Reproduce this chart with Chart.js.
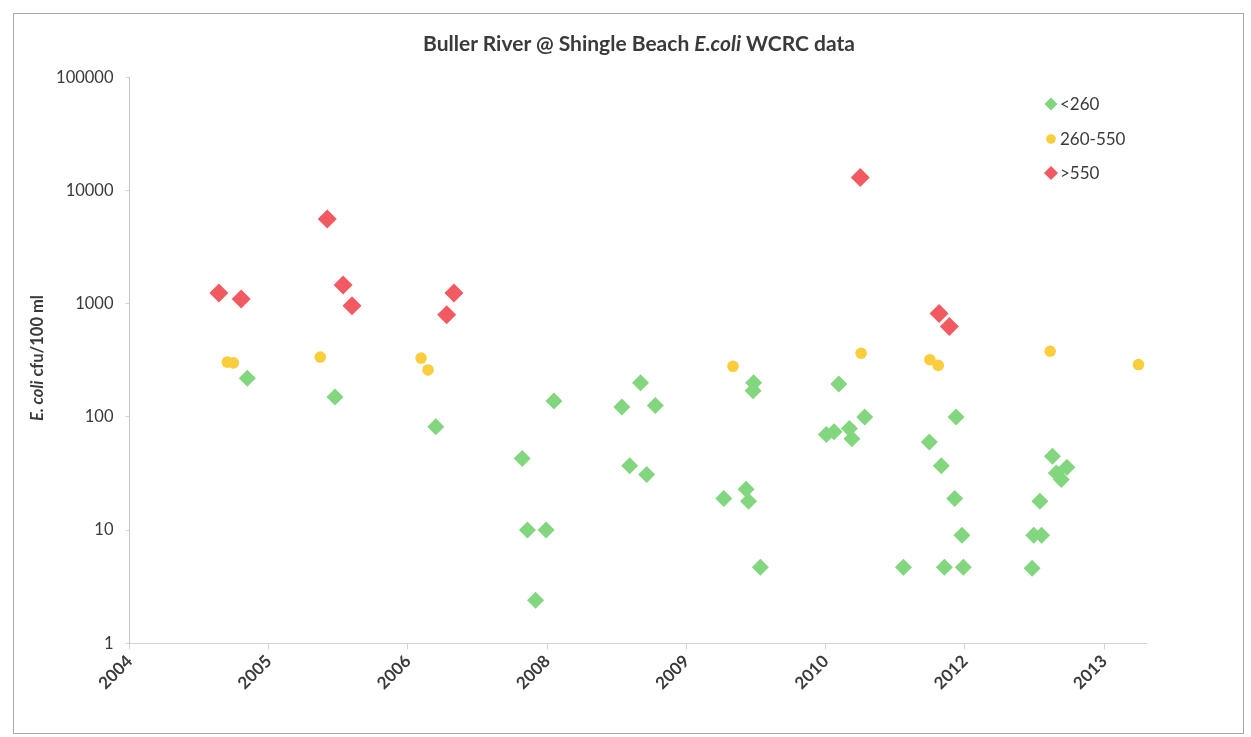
<!DOCTYPE html>
<html>
<head>
<meta charset="utf-8">
<script src="https://cdn.jsdelivr.net/npm/chart.js@4.4.1/dist/chart.umd.min.js"></script>
<style>
  html, body { margin: 0; padding: 0; background: #ffffff; }
  #wrap { position: relative; width: 1251px; height: 737px; overflow: hidden; background: #fff; }
  #frame { position: absolute; left: 13px; top: 13px; width: 1231px; height: 721px; border: 1px solid #a8a8a8; box-sizing: border-box; pointer-events: none; }
  #title { position: absolute; left: 0; width: 1278px; top: 30px; text-align: center; font-family: Lato, "Open Sans", sans-serif; font-weight: bold; font-size: 21px; color: #3a3a3a; white-space: nowrap; }
  #ytitle { position: absolute; left: 37px; top: 358px; transform: translate(-50%, -50%) rotate(-90deg); font-family: Lato, "Open Sans", sans-serif; font-weight: bold; font-size: 16.5px; color: #3a3a3a; white-space: nowrap; }
  canvas { position: absolute; left: 0; top: 0; }
</style>
</head>
<body>
<div id="wrap">
  <canvas id="c" width="1251" height="737"></canvas>
  <div id="frame"></div>
  <div id="title">Buller River @ Shingle Beach <i>E.coli</i> WCRC data</div>
  <div id="ytitle"><i>E. coli</i> cfu/100 ml</div>
</div>
<script>
// Sample dates are Excel serial day numbers (as in the source spreadsheet)
const greenDates = [38423, 38738, 39100, 39410, 39429, 39458, 39496, 39524, 39768, 39796, 39835, 39857, 39888,
  40134, 40214, 40223, 40239, 40241, 40265, 40502, 40530, 40547, 40585, 40594, 40640, 40779, 40872, 40915,
  40926, 40963, 40968, 40989, 40994, 41241, 41247, 41269, 41275, 41314, 41328, 41346, 41366];
const greenValues = [220, 150, 82, 43, 10, 2.4, 10, 138, 122, 37, 200, 31, 126,
  19, 23, 18, 170, 200, 4.7, 70, 74, 195, 79, 64, 100, 4.7, 60, 37,
  4.7, 19, 100, 9, 4.7, 4.6, 9, 18, 9, 45, 32, 28, 36];

const yellowDates = [38351, 38373, 38685, 39047, 39072, 40167, 40627, 40874, 40904, 41306, 41623];
const yellowValues = [305, 300, 338, 331, 260, 280, 365, 320, 285, 380, 290];

const redDates = [38321, 38401, 38710, 38767, 38799, 39139, 39165, 40624, 40907, 40944];
const redValues = [1240, 1100, 5600, 1460, 960, 800, 1240, 13000, 820, 630];

const seriesNames = ['<260', '260-550', '>550'];

const xTickValues = [38000, 38500, 39000, 39500, 40000, 40500, 41000, 41500];
const xTickLabels = ['2004', '2005', '2006', '2008', '2009', '2010', '2012', '2013'];
const yTickValues = [1, 10, 100, 1000, 10000, 100000];
const yTickLabels = ['1', '10', '100', '1000', '10000', '100000'];

const GREEN = '#82d67d';
const YELLOW = '#f9cd3c';
const RED = '#f15a61';
const TEXT = '#3a3a3a';
const FONT = 'Lato, "Open Sans", sans-serif';

function pts(xs, ys) { return xs.map((x, i) => ({ x: x, y: ys[i] })); }

const legendPlugin = {
  id: 'insideLegend',
  afterDraw(chart) {
    const ctx = chart.ctx;
    const items = [
      { style: 'diamond', color: GREEN, r: 6.5, y: 104 },
      { style: 'circle', color: YELLOW, r: 4.8, y: 139 },
      { style: 'diamond', color: RED, r: 7, y: 173 }
    ];
    const mx = 1051;
    ctx.save();
    items.forEach((it, i) => {
      ctx.fillStyle = it.color;
      ctx.beginPath();
      if (it.style === 'diamond') {
        ctx.moveTo(mx - it.r, it.y);
        ctx.lineTo(mx, it.y - it.r);
        ctx.lineTo(mx + it.r, it.y);
        ctx.lineTo(mx, it.y + it.r);
        ctx.closePath();
      } else {
        ctx.arc(mx, it.y, it.r, 0, Math.PI * 2);
      }
      ctx.fill();
      ctx.fillStyle = TEXT;
      ctx.font = '17px ' + FONT;
      ctx.textAlign = 'left';
      ctx.textBaseline = 'middle';
      ctx.fillText(seriesNames[i], 1060, it.y + 1);
    });
    ctx.restore();
  }
};

new Chart(document.getElementById('c'), {
  type: 'scatter',
  data: {
    datasets: [
      { label: seriesNames[0], data: pts(greenDates, greenValues), pointStyle: 'rectRot', pointRadius: 8.5, backgroundColor: GREEN, borderWidth: 0 },
      { label: seriesNames[1], data: pts(yellowDates, yellowValues), pointStyle: 'circle', pointRadius: 5.8, backgroundColor: YELLOW, borderWidth: 0 },
      { label: seriesNames[2], data: pts(redDates, redValues), pointStyle: 'rectRot', pointRadius: 9.5, backgroundColor: RED, borderWidth: 0 }
    ]
  },
  options: {
    responsive: false,
    animation: false,
    layout: { padding: { left: 0, right: 105, top: 77.3, bottom: 0 } },
    plugins: { legend: { display: false }, title: { display: false }, tooltip: { enabled: false } },
    elements: { point: { hoverRadius: 0 } },
    scales: {
      x: {
        type: 'linear',
        min: 38000,
        max: 41650,
        afterBuildTicks: (s) => { s.ticks = xTickValues.map(v => ({ value: v })); },
        afterFit: (s) => { s.height = 93.7; },
        ticks: {
          callback: (v, i) => xTickLabels[i],
          maxRotation: 45, minRotation: 45,
          autoSkip: false,
          font: { family: FONT, size: 17, weight: 'bold' },
          color: TEXT,
          padding: 2
        },
        grid: { drawOnChartArea: false, tickLength: 6, color: '#d4d4d4' },
        border: { color: '#d4d4d4', width: 1 }
      },
      y: {
        type: 'logarithmic',
        min: 1,
        max: 100000,
        afterBuildTicks: (s) => { s.ticks = yTickValues.map(v => ({ value: v })); },
        afterFit: (s) => { s.width = 129.5; },
        ticks: {
          callback: (v, i) => yTickLabels[i],
          autoSkip: false,
          font: { family: FONT, size: 16.5 },
          color: TEXT,
          padding: 12
        },
        grid: { drawOnChartArea: false, tickLength: 4, color: '#d4d4d4' },
        border: { color: '#c4c4c4', width: 1 }
      }
    }
  },
  plugins: [legendPlugin]
});
</script>
</body>
</html>
